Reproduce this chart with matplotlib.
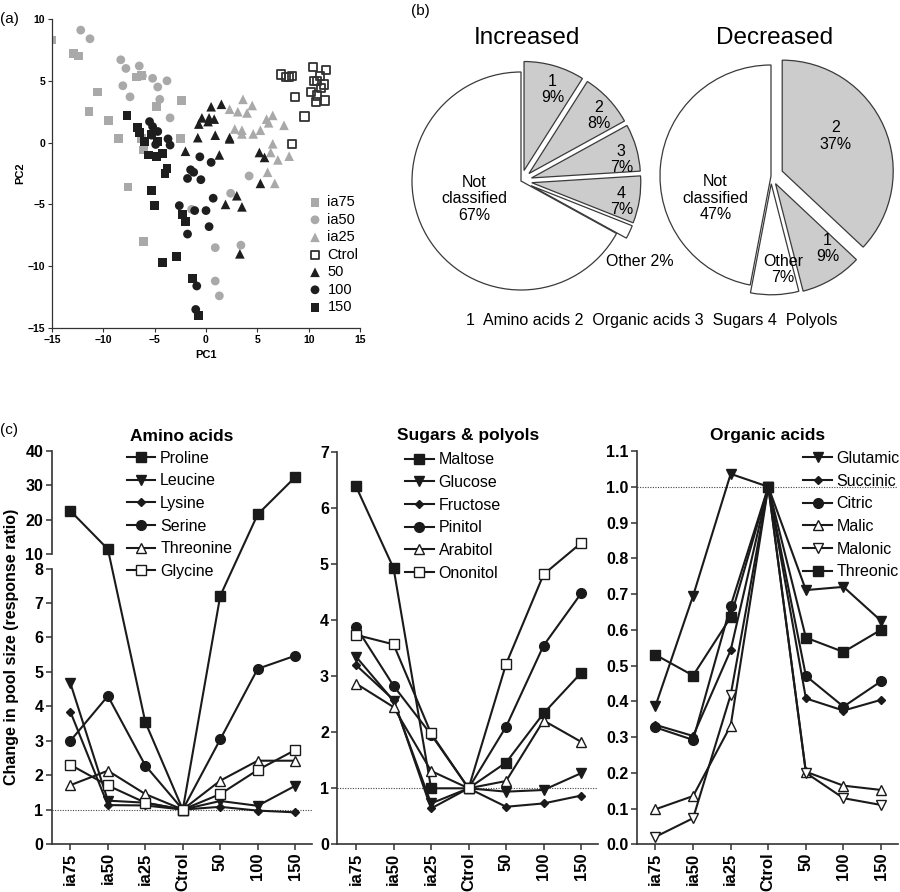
import numpy as np
import matplotlib
matplotlib.use("Agg")
import matplotlib.pyplot as plt

plt.rcParams['font.family'] = ['Liberation Sans', 'DejaVu Sans']
plt.rcParams['axes.unicode_minus'] = True

# ---------------- DATA ----------------
# Panel (a): PCA scores
ia75_pc1 = [-15.0, -12.9, -12.4, -10.6, -11.4, -9.5, -8.5, -6.8, -6.3, -4.8, -2.4, -2.5, -6.3, -6.1, -7.6, -6.1]
ia75_pc2 = [8.3, 7.2, 7.0, 4.1, 2.5, 1.8, 0.3, 5.3, 5.4, 2.9, 3.4, 0.3, 0.3, -0.6, -3.6, -8.0]

ia50_pc1 = [-12.2, -11.3, -8.3, -7.8, -6.5, -8.1, -7.4, -6.2, -5.2, -4.7, -3.8, -4.5, -3.5, 4.2, 2.4, -1.4, 0.9, 3.4, 0.9, 1.3]
ia50_pc2 = [9.1, 8.4, 6.7, 6.0, 6.2, 4.6, 3.7, 5.4, 5.2, 4.5, 5.0, 3.5, 2.0, -2.7, -4.1, -5.4, -8.5, -8.3, -11.2, -12.4]

ia25_pc1 = [3.6, 4.5, 2.3, 3.1, 4.0, 2.8, 3.5, 3.5, 4.6, 5.3, 6.1, 5.9, 6.5, 7.6, 6.5, 6.3, 7.0, 8.1, 6.0, 6.7]
ia25_pc2 = [3.5, 3.0, 2.7, 2.5, 2.4, 1.1, 1.0, 0.7, 0.7, 1.0, 1.6, 1.9, 2.2, 1.4, -0.1, -0.8, -1.4, -1.1, -2.4, -3.3]

ctrl_pc1 = [7.3, 7.8, 8.1, 8.4, 10.4, 11.7, 11.1, 10.5, 10.8, 11.5, 11.2, 10.2, 10.8, 10.7, 11.6, 8.7, 9.6, 8.4]
ctrl_pc2 = [5.5, 5.3, 5.3, 5.4, 6.1, 5.9, 5.4, 5.0, 5.0, 4.7, 4.4, 4.1, 3.8, 3.3, 3.4, 3.7, 2.1, -0.1]

s50_pc1 = [0.5, 1.5, -0.4, 0.3, 0.8, 0.2, -0.7, -0.8, 0.9, 2.3, 2.3, -2.0, 1.3, 5.2, 5.7, 5.3, 3.0, 1.9, 3.5, 3.3]
s50_pc2 = [2.9, 3.1, 2.0, 2.0, 1.9, 1.7, 1.5, 0.4, 0.6, 0.4, 0.3, -0.7, -1.0, -0.8, -1.2, -3.3, -4.3, -5.0, -5.2, -9.0]

s100_pc1 = [-5.5, -5.2, -4.7, -5.3, -3.7, -3.5, -4.9, -0.6, 0.5, -1.5, -1.2, -1.8, -0.5, 0.7, -2.6, -1.1, 0.0, 0.3, -1.8, -0.9, -1.0]
s100_pc2 = [1.7, 1.3, 0.9, 0.6, 0.3, -0.2, -0.15, -1.15, -1.6, -2.2, -2.4, -2.9, -3.0, -4.5, -5.1, -5.5, -5.5, -6.8, -7.4, -11.6, -13.5]

s150_pc1 = [-7.7, -6.7, -6.5, -5.3, -6.0, -4.7, -5.6, -4.8, -4.2, -3.8, -4.0, -5.3, -5.0, -2.3, -2.0, -4.2, -2.9, -1.3, -0.7]
s150_pc2 = [2.2, 1.2, 0.8, 0.7, 0.1, 0.1, -1.0, -1.1, -0.9, -2.1, -2.5, -3.9, -5.1, -5.8, -6.4, -9.7, -9.2, -11.0, -14.0]

# Panel (b): pie shares (%)
inc_labels = ['1\n9%', '2\n8%', '3\n7%', '4\n7%', '', 'Not\nclassified\n67%']
inc_values = [9, 8, 7, 7, 2, 67]
dec_labels = ['2\n37%', '1\n9%', 'Other\n7%', 'Not\nclassified\n47%']
dec_values = [37, 9, 7, 47]

# Panel (c): response ratios
categories = ['ia75', 'ia50', 'ia25', 'Ctrol', '50', '100', '150']

amino_names = ['Proline', 'Leucine', 'Lysine', 'Serine', 'Threonine', 'Glycine']
proline = [22.5, 11.4, 3.54, 1.0, 7.21, 21.5, 32.3]
leucine = [4.67, 1.26, 1.2, 1.0, 1.25, 1.11, 1.69]
lysine = [3.84, 1.13, 1.12, 1.0, 1.08, 0.97, 0.92]
serine = [3.0, 4.30, 2.28, 1.0, 3.04, 5.09, 5.47]
threonine = [1.71, 2.13, 1.45, 1.0, 1.84, 2.42, 2.42]
glycine = [2.30, 1.70, 1.2, 1.0, 1.45, 2.15, 2.73]

sugar_names = ['Maltose', 'Glucose', 'Fructose', 'Pinitol', 'Arabitol', 'Ononitol']
maltose = [6.39, 4.93, 1.0, 1.0, 1.46, 2.34, 3.06]
glucose = [3.35, 2.56, 0.73, 1.0, 0.94, 0.97, 1.27]
fructose = [3.2, 2.58, 0.64, 1.0, 0.67, 0.73, 0.87]
pinitol = [3.88, 2.83, 1.96, 1.0, 2.10, 3.55, 4.48]
arabitol = [2.87, 2.45, 1.31, 1.0, 1.13, 2.21, 1.83]
ononitol = [3.74, 3.57, 1.98, 1.0, 3.22, 4.82, 5.38]

organic_names = ['Glutamic', 'Succinic', 'Citric', 'Malic', 'Malonic', 'Threonic']
glutamic = [0.387, 0.695, 1.036, 1.0, 0.711, 0.72, 0.625]
succinic = [0.334, 0.303, 0.543, 1.0, 0.408, 0.374, 0.404]
citric = [0.327, 0.292, 0.667, 1.0, 0.471, 0.385, 0.456]
malic = [0.098, 0.135, 0.332, 1.0, 0.203, 0.164, 0.152]
malonic = [0.021, 0.073, 0.418, 1.0, 0.20, 0.129, 0.11]
threonic = [0.53, 0.472, 0.635, 1.0, 0.578, 0.538, 0.60]

# ---------------- STYLE ----------------
GREY = '#a9a9a9'
BLACK = '#1e1e1e'
AX = '#333333'

fig = plt.figure(figsize=(9, 8.92), dpi=100)

def px_axes(left, top, right, bottom):
    W, H = 900.0, 892.0
    return fig.add_axes([left / W, 1 - bottom / H, (right - left) / W, (bottom - top) / H])

# ---------------- Panel (a) ----------------
axa = px_axes(52, 19, 360, 328)
groups = [
    ('ia75', ia75_pc1, ia75_pc2, dict(marker='s', c=GREY, edgecolors='none')),
    ('ia50', ia50_pc1, ia50_pc2, dict(marker='o', c=GREY, edgecolors='none')),
    ('ia25', ia25_pc1, ia25_pc2, dict(marker='^', c=GREY, edgecolors='none')),
    ('Ctrol', ctrl_pc1, ctrl_pc2, dict(marker='s', facecolors='none', edgecolors=AX, linewidths=1.3)),
    ('50', s50_pc1, s50_pc2, dict(marker='^', c=BLACK, edgecolors='none')),
    ('100', s100_pc1, s100_pc2, dict(marker='o', c=BLACK, edgecolors='none')),
    ('150', s150_pc1, s150_pc2, dict(marker='s', c=BLACK, edgecolors='none')),
]
for name, xs, ys, kw in groups:
    sz = 40 if kw['marker'] != '^' else 48
    if name == 'Ctrol':
        sz = 36
    axa.scatter(xs, ys, s=sz, label=name, **kw)
axa.set_xlim(-15, 15)
axa.set_ylim(-15, 10)
axa.set_xticks([-15, -10, -5, 0, 5, 10, 15])
axa.set_yticks([-15, -10, -5, 0, 5, 10])
for s in ['top', 'right']:
    axa.spines[s].set_visible(False)
for s in ['left', 'bottom']:
    axa.spines[s].set_color(AX)
    axa.spines[s].set_linewidth(0.9)
axa.tick_params(axis='both', labelsize=7.5, length=3, width=0.8, color=AX, pad=2)
for t in axa.get_xticklabels() + axa.get_yticklabels():
    t.set_fontweight('bold')
axa.set_xlabel('PC1', fontsize=8, fontweight='bold', labelpad=4)
axa.set_ylabel('PC2', fontsize=8, fontweight='bold', labelpad=2)
leg = axa.legend(loc='upper left', bbox_to_anchor=(0.835, 0.43), frameon=False, fontsize=10.5,
                 handlelength=0.8, handletextpad=0.45, labelspacing=0.24, borderpad=0, borderaxespad=0,
                 scatterpoints=1)
fig.text(0.0, 1 - 19 / 892, '(a)', fontsize=11, va='center', ha='left')

# ---------------- Panel (b) ----------------
def pie_axes(cx, cy, r, L=1.25):
    S = 2 * L * r
    ax = px_axes(cx - S / 2, cy - S / 2, cx + S / 2, cy + S / 2)
    ax.set_xlim(-L, L)
    ax.set_ylim(-L, L)
    ax.set_aspect('equal')
    ax.axis('off')
    return ax

LIGHT = '#cccccc'
wp = dict(edgecolor='#3a3a3a', linewidth=0.9)

axi = pie_axes(521, 181, 109)
axi.pie(inc_values, colors=[LIGHT, LIGHT, LIGHT, LIGHT, 'white', 'white'], explode=[0.1, 0.1, 0.1, 0.1, 0.1, 0.0],
        startangle=90, counterclock=False, wedgeprops=wp, radius=1, frame=False)
axi.set_xlim(-1.25, 1.25); axi.set_ylim(-1.25, 1.25)
inc_pos = [(0.29, 0.84), (0.716, 0.60), (0.92, 0.2), (0.92, -0.19), None, (-0.43, -0.165)]
for lab, pos in zip(inc_labels, inc_pos):
    if pos is not None:
        axi.text(pos[0], pos[1], lab, ha='center', va='center', fontsize=11.5, linespacing=1.1)
axi.text(1.09, -0.74, 'Other 2%', ha='center', va='center', fontsize=11.5)
axi.text(0.05, 1.31, 'Increased', ha='center', va='center', fontsize=17.5)

axd = pie_axes(771, 176, 111)
axd.pie(dec_values, colors=[LIGHT, LIGHT, 'white', 'white'], explode=[0.11, 0.08, 0.07, 0.0],
        startangle=90, counterclock=False, wedgeprops=wp, radius=1, frame=False)
axd.set_xlim(-1.25, 1.25); axd.set_ylim(-1.25, 1.25)
dec_pos = [(0.585, 0.36), (0.51, -0.656), (0.108, -0.84), (-0.5, -0.2)]
for lab, pos in zip(dec_labels, dec_pos):
    axd.text(pos[0], pos[1], lab, ha='center', va='center', fontsize=11.5, linespacing=1.1)
axd.text(0.03, 1.24, 'Decreased', ha='center', va='center', fontsize=17.5)

fig.text(420 / 900, 1 - 11 / 892, '(b)', fontsize=11, va='center', ha='center')
fig.text(652 / 900, 1 - 321 / 892, '1  Amino acids 2  Organic acids 3  Sugars 4  Polyols',
         fontsize=11.5, ha='center', va='center')

# ---------------- Panel (c) ----------------
x = np.arange(len(categories))
LINE = '#1a1a1a'

def style_line_axes(ax):
    for s in ['top', 'right']:
        ax.spines[s].set_visible(False)
    for s in ['left', 'bottom']:
        ax.spines[s].set_color(AX)
        ax.spines[s].set_linewidth(1.2)
    ax.set_xlim(-0.5, 6.45)
    ax.set_xticks(x)
    ax.set_xticklabels(categories, rotation=90, fontsize=12, fontweight='bold')
    ax.tick_params(axis='both', length=4, width=1.1, color=AX, pad=2)
    ax.tick_params(axis='y', labelsize=11.5)
    for t in ax.get_yticklabels():
        t.set_fontweight('bold')
    ax.axhline(1.0, color='#444444', lw=0.8, ls=(0, (1, 1.3)), zorder=1)

def draw_series(ax, series, names, markers):
    for vals, name, (m, ms, filled) in zip(series, names, markers):
        ax.plot(x, vals, color=LINE, lw=1.5, marker=m, ms=ms,
                mfc=LINE if filled else 'white', mec=LINE, mew=1.0, label=name, zorder=3)

def add_legend(ax, anchor):
    ax.legend(loc='upper left', bbox_to_anchor=anchor, frameon=False, fontsize=11.5,
              handlelength=1.8, handletextpad=0.3, labelspacing=0.48, borderpad=0, borderaxespad=0)

# Amino acids with broken axis
G = 14.7 / 34.4
def fwd(y):
    y = np.asarray(y, dtype=float)
    return np.where(y <= 8, y, np.where(y <= 10, 8 + (y - 8) * G / 2, 8 + G + (y - 10) * 0.1))
def inv(v):
    v = np.asarray(v, dtype=float)
    return np.where(v <= 8, v, np.where(v <= 8 + G, 8 + (v - 8) * 2 / G, 10 + (v - 8 - G) * 10))

ax1 = px_axes(51.7, 450.7, 312, 844)
ax1.set_yscale('function', functions=(fwd, inv))
ax1.set_ylim(0, 40)
ax1.set_yticks([0, 1, 2, 3, 4, 5, 6, 7, 8, 10, 20, 30, 40])
ax1.set_yticklabels(['0', '1', '2', '3', '4', '5', '6', '7', '8', '10', '20', '30', '40'])
draw_series(ax1, [proline, leucine, lysine, serine, threonine, glycine], amino_names,
            [('s', 6.5, True), ('v', 7, True), ('D', 4, True), ('o', 7, True), ('^', 7, False), ('s', 6.5, False)])
style_line_axes(ax1)
ax1.spines['left'].set_bounds(0, 8)
ax1.plot([0, 0], [10, 40], transform=ax1.get_yaxis_transform(), color=AX, lw=1.2, clip_on=False, zorder=5)
ax1.set_title('Amino acids', fontsize=12.5, fontweight='bold', pad=7)
ax1.set_ylabel('Change in pool size (response ratio)', fontsize=11.5, fontweight='bold', labelpad=5)
add_legend(ax1, (0.288, 1.0))

# Sugars & polyols
ax2 = px_axes(337.3, 452.3, 598, 844.3)
draw_series(ax2, [maltose, glucose, fructose, pinitol, arabitol, ononitol], sugar_names,
            [('s', 6.5, True), ('v', 7, True), ('D', 4, True), ('o', 7, True), ('^', 7, False), ('s', 6.5, False)])
ax2.set_ylim(0, 7)
ax2.set_yticks(range(0, 8))
style_line_axes(ax2)
ax2.set_title('Sugars & polyols', fontsize=12.5, fontweight='bold', pad=9)
add_legend(ax2, (0.26, 1.0))

# Organic acids
ax3 = px_axes(636.7, 451, 898, 844.3)
draw_series(ax3, [glutamic, succinic, citric, malic, malonic, threonic], organic_names,
            [('v', 7, True), ('D', 4, True), ('o', 7, True), ('^', 7, False), ('v', 7, False), ('s', 6.5, True)])
ax3.set_ylim(0, 1.1)
ax3.set_yticks(np.round(np.arange(0, 1.11, 0.1), 1))
ax3.set_yticklabels([f'{v:.1f}' for v in np.arange(0, 1.11, 0.1)])
style_line_axes(ax3)
ax3.set_title('Organic acids', fontsize=12.5, fontweight='bold', pad=8)
add_legend(ax3, (0.637, 1.0))

fig.text(0.0, 1 - 430 / 892, '(c)', fontsize=11, va='center', ha='left')

fig.savefig('out.png', dpi=100)
